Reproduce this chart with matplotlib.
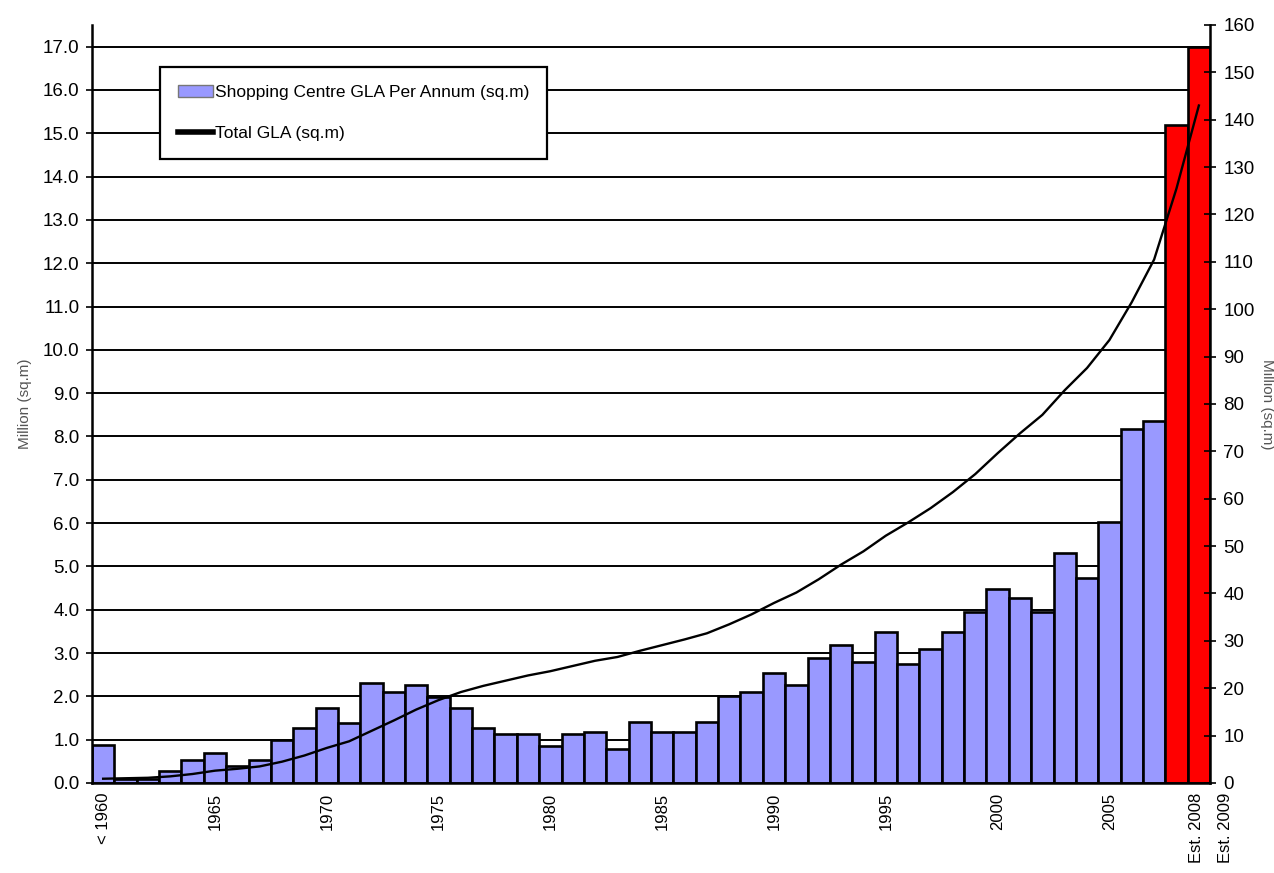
import numpy as np
import matplotlib
matplotlib.use('Agg')
import matplotlib.pyplot as plt
import matplotlib.transforms as mtransforms
from matplotlib.patches import Patch
from matplotlib.lines import Line2D

narrow = ['Liberation Sans Narrow', 'Liberation Sans', 'DejaVu Sans']
regular = ['Liberation Sans', 'DejaVu Sans']
plt.rcParams['font.family'] = narrow

# categories: "< 1960", 1961 ... 2007, then the two estimates
categories = ['< 1960'] + [str(y) for y in range(1961, 2008)] + ['Est. 2008', 'Est. 2009']

# shopping centre GLA added per year, million sq.m (left axis)
gla_per_annum = [0.88, 0.10, 0.10, 0.27, 0.53, 0.69, 0.40, 0.52, 1.00, 1.28,
                 1.73, 1.39, 2.32, 2.11, 2.27, 1.99, 1.73, 1.28, 1.12, 1.12,
                 0.85, 1.12, 1.17, 0.78, 1.40, 1.17, 1.17, 1.40, 2.00, 2.11,
                 2.54, 2.26, 2.88, 3.18, 2.80, 3.48, 2.75, 3.09, 3.48, 3.94,
                 4.49, 4.28, 3.94, 5.32, 4.73, 6.03, 8.18, 8.36]
gla_estimate = [15.2, 17.0]

# total GLA, million sq.m (right axis)
total_gla = [0.9, 1.0, 1.1, 1.4, 1.9, 2.6, 3.0, 3.5, 4.5, 5.8,
             7.4, 8.8, 11.0, 13.2, 15.5, 17.5, 19.2, 20.5, 21.6, 22.7,
             23.6, 24.7, 25.8, 26.6, 27.9, 29.1, 30.3, 31.6, 33.5, 35.6,
             38.0, 40.2, 43.0, 46.1, 48.9, 52.2, 55.0, 58.0, 61.4, 65.2,
             69.6, 73.8, 77.7, 82.9, 87.6, 93.5, 101.5, 110.5, 125.5, 143.0]

shown_labels = ['< 1960', '1965', '1970', '1975', '1980', '1985', '1990',
                '1995', '2000', '2005', 'Est. 2008', 'Est. 2009']

x = np.arange(len(categories))
heights = gla_per_annum + gla_estimate
colors = ['#9999FF'] * len(gla_per_annum) + ['#FF0000'] * len(gla_estimate)

fig = plt.figure(figsize=(12.74, 8.73), dpi=100)
ax = fig.add_axes([0.0722, 0.1031, 0.8776, 0.8683])

ax.set_axisbelow(True)
ax.yaxis.grid(True, color='black', linewidth=1.4)
ax.bar(x, heights, width=1.0, color=colors, edgecolor='black', linewidth=1.9)

ax.set_xlim(-0.5, len(categories) - 0.5)
ax.set_ylim(0, 17.5)
ax.set_yticks(np.arange(0, 18, 1))
ax.set_yticklabels(['%.1f' % v for v in np.arange(0, 18, 1)], fontsize=13.5)
ax.tick_params(axis='y', direction='out', length=4, width=1.2, pad=5)

pos = [categories.index(l) for l in shown_labels]
ax.set_xticks(pos)
ax.set_xticklabels(shown_labels, rotation=90, fontsize=12, family=regular)
ax.tick_params(axis='x', length=0, pad=7)

# the estimate labels sit a little to the right in the original
for lab, dx in zip(ax.get_xticklabels()[-2:], [0.20, 0.27]):
    lab.set_transform(lab.get_transform() + mtransforms.ScaledTranslation(dx, 0, fig.dpi_scale_trans))

ax.set_ylabel('Million (sq.m)', fontsize=11, color='#555555', family=regular, labelpad=8)

for s in ['top', 'right']:
    ax.spines[s].set_visible(False)
ax.spines['left'].set_linewidth(1.8)
ax.spines['bottom'].set_linewidth(1.8)

ax2 = ax.twinx()
ax2.plot(x, total_gla, color='black', linewidth=1.7)
ax2.set_ylim(0, 160)
ax2.set_yticks(np.arange(0, 161, 10))
ax2.set_yticklabels([str(v) for v in range(0, 161, 10)], fontsize=13.5)
ax2.tick_params(axis='y', direction='inout', length=9, width=1.2, pad=5)
ax2.set_ylabel('Million (sq.m)', fontsize=11, color='#555555', family=regular,
               rotation=270, labelpad=14)
for s in ['top', 'left', 'bottom']:
    ax2.spines[s].set_visible(False)
ax2.spines['right'].set_linewidth(1.8)

handles = [Patch(facecolor='#9999FF', edgecolor='#777777'),
           Line2D([], [], color='black', linewidth=4)]
leg = ax2.legend(handles, ['Shopping Centre GLA Per Annum (sq.m)', 'Total GLA (sq.m)'],
                 loc='upper left', bbox_to_anchor=(0.0608, 0.9446), fontsize=12.5,
                 frameon=True, fancybox=False, framealpha=1, edgecolor='black',
                 borderpad=1.05, labelspacing=1.45, handlelength=2.0, handletextpad=0.1,
                 borderaxespad=0)
leg.get_frame().set_linewidth(1.6)

fig.savefig('out.png', dpi=100)
